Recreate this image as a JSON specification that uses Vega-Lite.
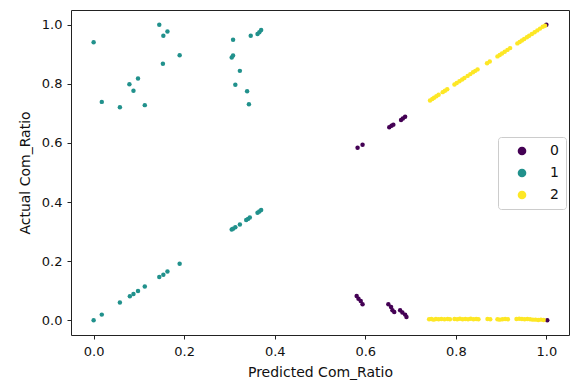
{
  "$schema": "https://vega.github.io/schema/vega-lite/v6.json",
  "width": 498,
  "height": 325,
  "autosize": {"type": "none"},
  "padding": {"left": 71, "top": 10, "right": 1, "bottom": 46},
  "background": "white",
  "config": {
    "view": {"stroke": "#222", "strokeWidth": 1},
    "font": "DejaVu Sans",
    "axis": {
      "grid": false,
      "domain": false,
      "tickColor": "#222",
      "tickSize": 4,
      "labelColor": "#111",
      "titleColor": "#111",
      "labelFontSize": 13,
      "titleFontSize": 14,
      "titleFontWeight": "normal",
      "labelFont": "DejaVu Sans",
      "titleFont": "DejaVu Sans"
    }
  },
  "data": {
    "values": [
      {"p": 0.000, "a": 0.000, "c": "1"},
      {"p": 0.018, "a": 0.019, "c": "1"},
      {"p": 0.058, "a": 0.060, "c": "1"},
      {"p": 0.080, "a": 0.081, "c": "1"},
      {"p": 0.088, "a": 0.089, "c": "1"},
      {"p": 0.098, "a": 0.099, "c": "1"},
      {"p": 0.113, "a": 0.114, "c": "1"},
      {"p": 0.145, "a": 0.146, "c": "1"},
      {"p": 0.154, "a": 0.154, "c": "1"},
      {"p": 0.163, "a": 0.165, "c": "1"},
      {"p": 0.190, "a": 0.191, "c": "1"},
      {"p": 0.305, "a": 0.307, "c": "1"},
      {"p": 0.308, "a": 0.310, "c": "1"},
      {"p": 0.313, "a": 0.315, "c": "1"},
      {"p": 0.323, "a": 0.324, "c": "1"},
      {"p": 0.337, "a": 0.339, "c": "1"},
      {"p": 0.341, "a": 0.343, "c": "1"},
      {"p": 0.345, "a": 0.348, "c": "1"},
      {"p": 0.362, "a": 0.364, "c": "1"},
      {"p": 0.366, "a": 0.368, "c": "1"},
      {"p": 0.370, "a": 0.373, "c": "1"},
      {"p": 0.000, "a": 0.941, "c": "1"},
      {"p": 0.018, "a": 0.739, "c": "1"},
      {"p": 0.058, "a": 0.721, "c": "1"},
      {"p": 0.079, "a": 0.799, "c": "1"},
      {"p": 0.088, "a": 0.777, "c": "1"},
      {"p": 0.098, "a": 0.818, "c": "1"},
      {"p": 0.113, "a": 0.728, "c": "1"},
      {"p": 0.145, "a": 1.000, "c": "1"},
      {"p": 0.154, "a": 0.963, "c": "1"},
      {"p": 0.163, "a": 0.977, "c": "1"},
      {"p": 0.153, "a": 0.868, "c": "1"},
      {"p": 0.190, "a": 0.897, "c": "1"},
      {"p": 0.308, "a": 0.949, "c": "1"},
      {"p": 0.347, "a": 0.963, "c": "1"},
      {"p": 0.362, "a": 0.969, "c": "1"},
      {"p": 0.366, "a": 0.975, "c": "1"},
      {"p": 0.370, "a": 0.982, "c": "1"},
      {"p": 0.305, "a": 0.889, "c": "1"},
      {"p": 0.308, "a": 0.896, "c": "1"},
      {"p": 0.323, "a": 0.844, "c": "1"},
      {"p": 0.313, "a": 0.797, "c": "1"},
      {"p": 0.339, "a": 0.775, "c": "1"},
      {"p": 0.343, "a": 0.731, "c": "1"},
      {"p": 0.583, "a": 0.584, "c": "0"},
      {"p": 0.594, "a": 0.594, "c": "0"},
      {"p": 0.653, "a": 0.653, "c": "0"},
      {"p": 0.658, "a": 0.658, "c": "0"},
      {"p": 0.662, "a": 0.662, "c": "0"},
      {"p": 0.679, "a": 0.678, "c": "0"},
      {"p": 0.683, "a": 0.683, "c": "0"},
      {"p": 0.688, "a": 0.689, "c": "0"},
      {"p": 1.000, "a": 1.000, "c": "0"},
      {"p": 0.581, "a": 0.082, "c": "0"},
      {"p": 0.585, "a": 0.073, "c": "0"},
      {"p": 0.590, "a": 0.065, "c": "0"},
      {"p": 0.594, "a": 0.054, "c": "0"},
      {"p": 0.651, "a": 0.054, "c": "0"},
      {"p": 0.657, "a": 0.045, "c": "0"},
      {"p": 0.660, "a": 0.034, "c": "0"},
      {"p": 0.664, "a": 0.028, "c": "0"},
      {"p": 0.677, "a": 0.034, "c": "0"},
      {"p": 0.682, "a": 0.026, "c": "0"},
      {"p": 0.688, "a": 0.019, "c": "0"},
      {"p": 0.691, "a": 0.011, "c": "0"},
      {"p": 1.002, "a": 0.000, "c": "0"},
      {"p": 0.743, "a": 0.744, "c": "2"},
      {"p": 0.748, "a": 0.749, "c": "2"},
      {"p": 0.752, "a": 0.753, "c": "2"},
      {"p": 0.757, "a": 0.758, "c": "2"},
      {"p": 0.762, "a": 0.763, "c": "2"},
      {"p": 0.771, "a": 0.772, "c": "2"},
      {"p": 0.776, "a": 0.777, "c": "2"},
      {"p": 0.781, "a": 0.782, "c": "2"},
      {"p": 0.797, "a": 0.798, "c": "2"},
      {"p": 0.802, "a": 0.803, "c": "2"},
      {"p": 0.808, "a": 0.809, "c": "2"},
      {"p": 0.814, "a": 0.815, "c": "2"},
      {"p": 0.819, "a": 0.820, "c": "2"},
      {"p": 0.826, "a": 0.827, "c": "2"},
      {"p": 0.832, "a": 0.833, "c": "2"},
      {"p": 0.838, "a": 0.839, "c": "2"},
      {"p": 0.843, "a": 0.844, "c": "2"},
      {"p": 0.848, "a": 0.849, "c": "2"},
      {"p": 0.869, "a": 0.870, "c": "2"},
      {"p": 0.875, "a": 0.876, "c": "2"},
      {"p": 0.892, "a": 0.893, "c": "2"},
      {"p": 0.897, "a": 0.898, "c": "2"},
      {"p": 0.902, "a": 0.903, "c": "2"},
      {"p": 0.908, "a": 0.909, "c": "2"},
      {"p": 0.914, "a": 0.915, "c": "2"},
      {"p": 0.920, "a": 0.921, "c": "2"},
      {"p": 0.936, "a": 0.937, "c": "2"},
      {"p": 0.941, "a": 0.942, "c": "2"},
      {"p": 0.946, "a": 0.947, "c": "2"},
      {"p": 0.951, "a": 0.952, "c": "2"},
      {"p": 0.957, "a": 0.958, "c": "2"},
      {"p": 0.962, "a": 0.963, "c": "2"},
      {"p": 0.968, "a": 0.969, "c": "2"},
      {"p": 0.974, "a": 0.975, "c": "2"},
      {"p": 0.980, "a": 0.981, "c": "2"},
      {"p": 0.986, "a": 0.987, "c": "2"},
      {"p": 0.992, "a": 0.993, "c": "2"},
      {"p": 0.997, "a": 0.997, "c": "2"},
      {"p": 0.741, "a": 0.003, "c": "2"},
      {"p": 0.746, "a": 0.004, "c": "2"},
      {"p": 0.751, "a": 0.002, "c": "2"},
      {"p": 0.756, "a": 0.004, "c": "2"},
      {"p": 0.762, "a": 0.003, "c": "2"},
      {"p": 0.768, "a": 0.004, "c": "2"},
      {"p": 0.775, "a": 0.003, "c": "2"},
      {"p": 0.782, "a": 0.004, "c": "2"},
      {"p": 0.787, "a": 0.003, "c": "2"},
      {"p": 0.797, "a": 0.004, "c": "2"},
      {"p": 0.803, "a": 0.003, "c": "2"},
      {"p": 0.809, "a": 0.005, "c": "2"},
      {"p": 0.815, "a": 0.003, "c": "2"},
      {"p": 0.821, "a": 0.004, "c": "2"},
      {"p": 0.827, "a": 0.003, "c": "2"},
      {"p": 0.833, "a": 0.005, "c": "2"},
      {"p": 0.839, "a": 0.003, "c": "2"},
      {"p": 0.845, "a": 0.004, "c": "2"},
      {"p": 0.850, "a": 0.003, "c": "2"},
      {"p": 0.870, "a": 0.004, "c": "2"},
      {"p": 0.876, "a": 0.003, "c": "2"},
      {"p": 0.892, "a": 0.003, "c": "2"},
      {"p": 0.897, "a": 0.002, "c": "2"},
      {"p": 0.903, "a": 0.003, "c": "2"},
      {"p": 0.909, "a": 0.004, "c": "2"},
      {"p": 0.915, "a": 0.003, "c": "2"},
      {"p": 0.934, "a": 0.004, "c": "2"},
      {"p": 0.940, "a": 0.005, "c": "2"},
      {"p": 0.946, "a": 0.004, "c": "2"},
      {"p": 0.952, "a": 0.003, "c": "2"},
      {"p": 0.958, "a": 0.004, "c": "2"},
      {"p": 0.964, "a": 0.003, "c": "2"},
      {"p": 0.970, "a": 0.002, "c": "2"},
      {"p": 0.976, "a": 0.002, "c": "2"},
      {"p": 0.982, "a": 0.001, "c": "2"},
      {"p": 0.988, "a": 0.002, "c": "2"},
      {"p": 0.994, "a": 0.001, "c": "2"}
    ]
  },
  "mark": {"type": "point", "filled": true, "opacity": 1, "size": 20},
  "encoding": {
    "x": {
      "field": "p",
      "type": "quantitative",
      "title": "Predicted Com_Ratio",
      "scale": {"domain": [-0.05, 1.05], "nice": false, "zero": false},
      "axis": {"values": [0, 0.2, 0.4, 0.6, 0.8, 1.0], "format": ".1f", "labelPadding": 6, "titlePadding": 7}
    },
    "y": {
      "field": "a",
      "type": "quantitative",
      "title": "Actual Com_Ratio",
      "scale": {"domain": [-0.05, 1.05], "nice": false, "zero": false},
      "axis": {"values": [0, 0.2, 0.4, 0.6, 0.8, 1.0], "format": ".1f", "labelPadding": 5, "titlePadding": 9}
    },
    "color": {
      "field": "c",
      "type": "nominal",
      "scale": {"domain": ["0", "1", "2"], "range": ["#440154", "#21918c", "#fde725"]},
      "legend": {
        "title": null,
        "orient": "none",
        "legendX": 427,
        "legendY": 127,
        "padding": 7,
        "symbolOffset": 10,
        "symbolSize": 75,
        "symbolType": "circle",
        "labelOffset": 21,
        "labelFontSize": 14,
        "labelColor": "#111",
        "rowPadding": 8,
        "strokeColor": "#cccccc",
        "fillColor": "white",
        "cornerRadius": 3
      }
    }
  }
}
